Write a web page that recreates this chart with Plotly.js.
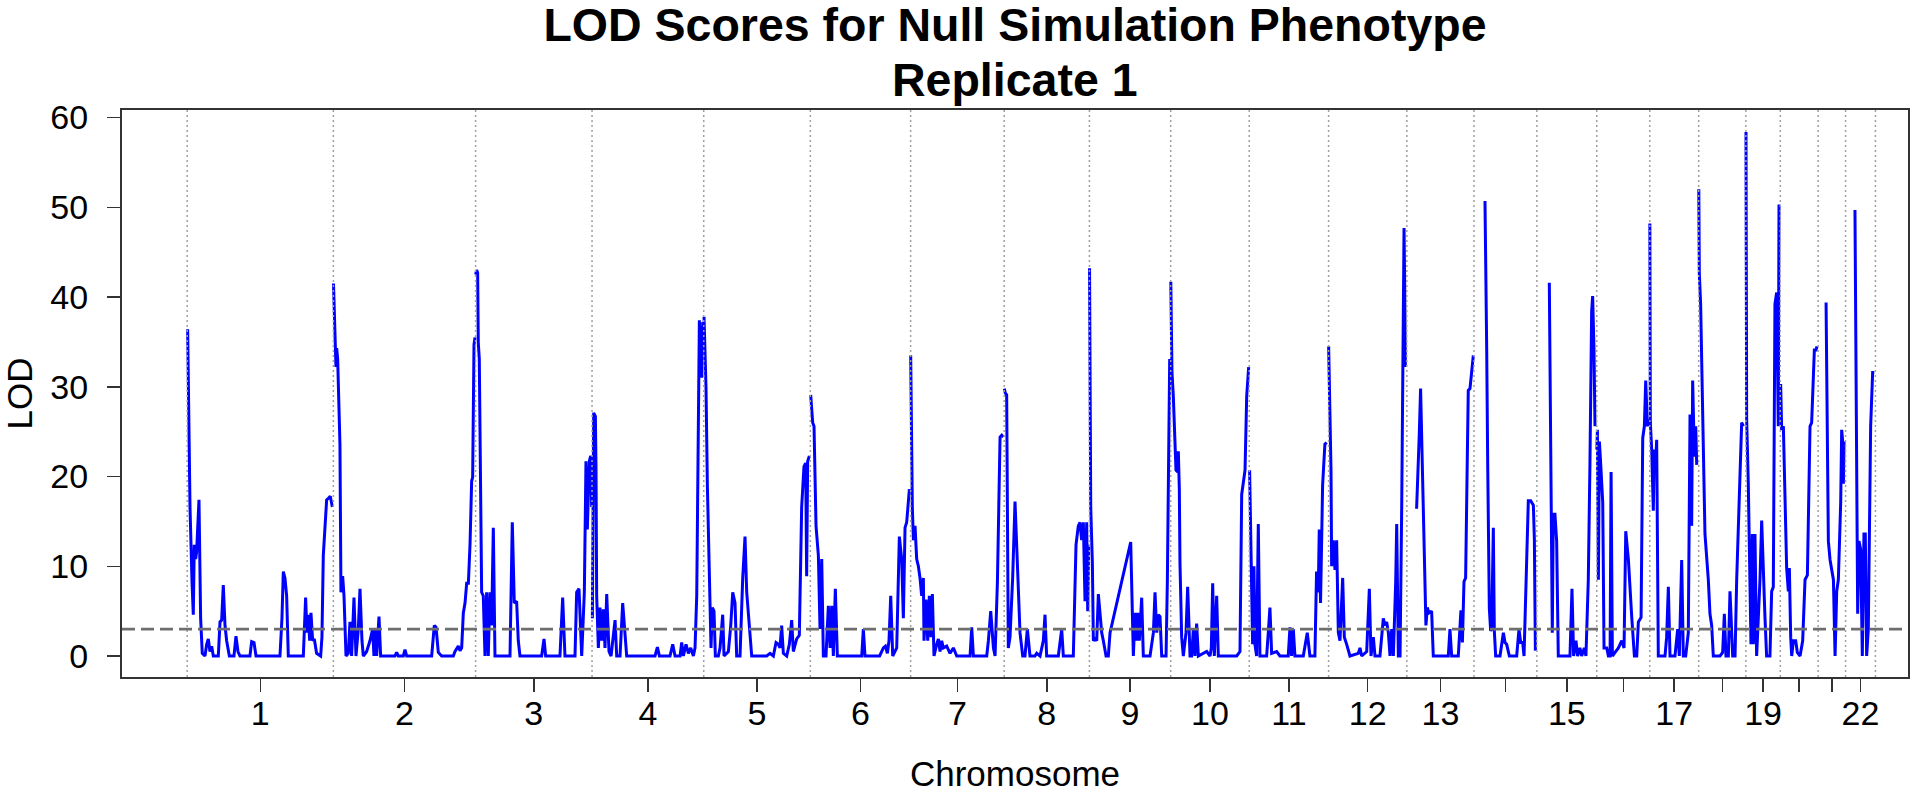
<!DOCTYPE html>
<html>
<head>
<meta charset="utf-8">
<script src="https://cdn.plot.ly/plotly-3.0.1.min.js"></script>
<style>html,body{margin:0;padding:0;background:#fff;}#chart{width:1920px;height:793px;}</style>
</head>
<body>
<div id="chart"></div>
<script>
// Chromosome names and lengths (Mb)
const chromNames = ['1','2','3','4','5','6','7','8','9','10','11','12','13','14','15','16','17','18','19','20','21','22'];
const chromLengths = [248.96, 242.19, 198.30, 190.21, 181.54, 170.81, 159.35, 145.14, 138.39, 133.80, 135.09, 133.28, 114.36, 107.04, 101.99, 90.34, 83.26, 80.37, 58.62, 64.44, 46.71, 50.82];
const tickLabels = ['1','2','3','4','5','6','7','8','9','10','11','12','13','','15','','17','','19','','','22'];
const lodThreshold = 3;

// [position within chromosome (Mb), LOD]
const chr1 = [[0.8,36.4],[3.1,24.8],[4.8,16.6],[8.2,8.3],[10.4,4.6],[12.1,12.4],[14.4,10.8],[16.1,11.6],[20.1,17.4],[22.9,4.2],[25.7,0.3],[30.3,0],[33.2,1.3],[36.0,1.9],[38.8,0.5],[41.7,1.1],[44.5,0],[53.0,0],[55.9,3.8],[58.7,4.0],[61.5,7.9],[64.4,3.4],[67.2,1.7],[71.8,0],[79.7,0],[83.1,2.2],[86.5,0.5],[89.9,0],[106.9,0],[109.8,1.6],[113.8,1.5],[117.2,0],[158.0,0],[161.4,4.2],[163.7,9.4],[166.5,8.7],[169.4,6.7],[172.2,0],[197.8,0],[201.7,6.5],[204.0,2.6],[206.3,4.6],[208.6,1.7],[210.8,4.8],[213.7,1.7],[216.5,1.9],[220.4,0.3],[227.3,0],[229.5,2.1],[231.8,11.2],[235.2,14.5],[237.5,17.4],[240.9,17.6],[243.7,17.8],[247.2,16.6]];
const chr2 = [[0.2,41.5],[1.6,37.2],[2.7,33.9],[4.4,32.2],[5.6,34.3],[7.3,33.1],[11.2,23.6],[12.9,7.1],[15.8,8.9],[18.1,6.7],[21.5,0],[25.4,0.3],[28.3,3.8],[31.1,0],[35.1,6.5],[38.5,0],[42.5,3.0],[45.3,7.5],[48.7,1.7],[51.0,0],[56.7,0.5],[62.3,1.7],[66.9,3.0],[69.1,0],[72.0,3.0],[73.7,0],[77.7,4.4],[80.5,0],[104.9,0],[107.8,0.4],[110.6,0],[119.1,0],[122.0,0.7],[124.8,0],[167.4,0],[171.9,3.4],[174.8,3.2],[178.7,0.4],[184.4,0],[204.3,0],[207.1,0.5],[212.8,1.1],[215.7,0.6],[218.5,0.9],[221.3,4.8],[224.2,5.9],[227.0,8.1],[229.9,8.1],[232.7,12.4],[235.5,19.5],[237.2,19.9],[239.5,34.7],[241.2,35.5]];
const chr3 = [[0.1,42.5],[1.8,43.0],[3.5,42.7],[4.6,34.9],[6.3,33.1],[8.0,23.6],[10.3,7.1],[13.1,6.7],[16.0,0],[18.8,7.1],[21.6,0],[24.5,7.1],[27.3,3.4],[30.2,14.3],[33.0,0],[58.6,0],[62.5,14.9],[65.9,5.9],[69.9,6.1],[72.7,1.7],[75.6,0],[112.5,0],[116.5,1.9],[119.3,0],[143.7,0],[148.3,6.5],[152.2,0],[169.3,0],[172.1,7.1],[176.1,7.5],[180.7,0],[185.2,7.1],[188.0,21.7],[190.3,14.1],[193.7,21.7],[196.0,22.3],[197.7,16.6]];
const chr4 = [[0.6,4.2],[2.8,27.1],[5.7,26.7],[6.8,20.7],[7.9,6.7],[10.8,0.9],[13.6,5.4],[16.5,1.7],[19.3,5.2],[22.1,0.9],[25.0,6.9],[28.9,0.5],[32.4,0],[36.3,2.6],[39.2,4.0],[42.0,0],[47.7,0],[52.2,5.9],[56.2,2.6],[59.0,0],[107.3,0],[111.3,1.0],[114.7,0],[132.8,0],[137.4,1.3],[141.4,0],[149.9,0],[152.7,1.5],[155.5,0],[160.1,1.3],[164.1,0.3],[168.0,0.9],[172.6,0],[175.4,0.9],[178.3,6.7],[180.5,20.7],[182.8,37.4],[185.1,33.1],[186.8,31.0],[188.5,37.2]];
const chr5 = [[0.5,37.8],[2.2,33.1],[3.9,29.8],[6.2,19.0],[8.5,10.4],[10.7,5.9],[12.4,0.9],[14.7,5.4],[17.5,5.0],[19.8,0],[24.9,0],[27.8,0.9],[32.3,4.6],[34.6,0],[42.0,0.5],[46.0,3.4],[49.4,7.1],[53.3,5.9],[56.1,0],[61.8,0],[66.4,8.7],[70.3,13.3],[73.2,7.1],[77.7,3.4],[81.7,0],[107.2,0],[112.9,0.3],[118.6,0],[123.1,1.5],[127.1,1.3],[129.9,0.9],[132.7,3.4],[135.6,0.3],[141.3,0],[145.8,1.3],[149.8,4.0],[152.6,0.5],[158.3,1.9],[162.8,2.3],[166.8,16.6],[170.7,21.1],[173.6,21.5],[175.3,8.9],[177.0,21.7],[179.9,22.3]];
const chr6 = [[0.6,29.1],[2.3,26.9],[4.0,26.0],[6.3,25.6],[9.7,14.5],[13.7,11.2],[16.5,3.0],[19.4,10.8],[22.2,0],[26.7,0],[30.7,5.6],[33.6,0.9],[36.4,5.6],[39.2,0],[42.6,7.5],[46.0,0],[87.5,0],[90.3,3.0],[93.1,0],[118.0,0],[121.5,0.5],[124.4,0.9],[127.8,1.1],[131.2,0.3],[134.0,1.7],[136.9,6.7],[140.3,0],[147.1,0.9],[151.6,13.3],[155.6,10.8],[158.4,4.2],[161.3,14.3],[164.1,14.9],[168.7,18.6]];
const chr7 = [[0.1,33.5],[1.8,18.6],[2.9,16.6],[4.7,12.9],[7.5,14.5],[10.3,10.8],[13.2,10.0],[16.0,8.7],[18.8,6.7],[21.7,8.7],[22.8,1.7],[26.2,6.3],[29.1,1.7],[31.9,6.7],[34.7,2.1],[37.0,6.9],[39.8,0],[44.4,1.3],[47.2,1.9],[50.1,0.5],[52.9,1.7],[55.7,0.9],[61.4,1.1],[67.1,0.3],[72.8,0.9],[78.5,0],[101.2,0],[104.0,3.2],[106.9,0],[129.6,0],[132.4,1.7],[136.4,5.0],[141.0,0.9],[143.8,0],[147.8,8.3],[152.3,24.4],[155.2,24.6],[158.0,24.4]];
const chr8 = [[0.2,29.8],[1.9,29.3],[4.2,29.1],[5.3,16.6],[7.0,0.9],[9.9,2.1],[14.4,8.7],[18.4,17.2],[21.2,12.4],[24.1,7.1],[26.9,2.6],[31.5,0],[35.4,0],[39.4,3.0],[43.9,0],[52.4,0],[55.3,0.3],[61.0,0],[66.6,1.7],[69.5,4.6],[72.3,0],[92.2,0],[97.9,3.0],[100.7,0],[117.7,0],[122.3,12.4],[124.5,14.1],[126.2,14.5],[129.1,14.9],[131.9,12.9],[134.8,14.9],[137.6,6.1],[140.5,14.9],[142.2,5.0],[143.9,12.4]];
const chr9 = [[0.2,43.2],[1.0,33.1],[2.2,16.6],[5.0,10.4],[6.7,1.7],[9.5,1.9],[12.4,1.7],[15.2,6.9],[18.1,4.2],[20.9,2.6],[23.7,1.7],[28.3,0],[32.2,0],[35.1,2.6],[70.3,12.7],[74.8,0],[77.7,4.8],[80.5,1.7],[82.2,4.8],[85.0,1.7],[89.0,6.5],[91.8,0],[103.2,0],[108.9,2.6],[111.7,7.1],[114.6,2.6],[117.4,4.6],[120.2,4.4],[123.1,0],[130.5,0],[132.7,8.3],[134.4,18.6],[136.7,33.1]];
const chr10 = [[0.2,41.7],[1.1,37.2],[2.2,31.6],[4.5,28.9],[6.8,24.8],[9.0,20.7],[11.9,20.5],[13.0,22.8],[14.7,18.6],[15.8,10.4],[18.7,2.1],[21.5,0],[26.1,2.6],[28.9,7.7],[31.2,3.4],[32.9,0],[35.7,0],[38.6,3.0],[41.4,0],[44.2,3.6],[47.1,0],[55.6,0.3],[61.3,0.5],[67.0,0],[69.2,0.9],[71.5,8.1],[74.3,0],[78.3,6.7],[81.1,0],[112.4,0],[118.0,0.5],[120.9,18.0],[123.7,19.5],[126.6,20.7],[129.4,28.9],[131.7,31.8],[132.8,32.2]];
const chr11 = [[0.6,20.7],[2.3,14.5],[4.0,10.4],[5.7,1.3],[8.0,10.0],[9.7,1.3],[12.5,0],[15.4,14.7],[18.2,0],[29.6,0],[32.4,2.6],[35.2,5.4],[38.1,0.3],[46.6,0.5],[52.2,0],[66.4,0],[69.3,3.2],[72.1,0],[75.0,3.0],[77.8,0],[92.0,0],[95.4,1.3],[98.8,2.6],[103.3,0],[111.8,0],[114.6,9.4],[117.5,7.1],[119.2,14.1],[121.4,5.9],[124.9,19.0],[128.8,23.6],[131.7,23.8]];
const chr12 = [[0.1,34.5],[2.4,26.0],[4.1,20.7],[5.2,10.0],[8.1,12.9],[10.9,9.6],[13.7,12.9],[16.6,2.6],[19.4,1.7],[24.0,8.7],[26.8,2.1],[30.8,1.3],[36.4,0],[50.6,0.3],[53.5,0.9],[56.3,0],[64.9,0.5],[69.4,7.5],[72.2,0],[76.2,2.1],[79.0,0],[87.5,0],[93.2,4.2],[96.1,3.4],[98.9,3.8],[101.8,2.6],[104.6,0],[107.5,3.0],[110.3,0],[114.3,8.3],[116.0,14.7],[118.8,0],[121.7,0],[124.5,16.6],[126.2,32.2],[128.5,47.7],[129.6,41.3],[130.8,32.2]];
const chr13 = [[16.6,16.4],[18.3,20.7],[21.2,24.8],[23.4,29.8],[25.1,24.8],[26.9,18.6],[29.7,10.4],[32.5,3.4],[34.8,5.4],[37.7,4.8],[42.2,5.0],[45.0,0],[70.6,0],[73.4,3.0],[76.3,0],[87.6,0],[92.1,5.1],[94.6,1.5],[97.3,8.3],[100.1,8.7],[102.5,20.0],[104.6,29.6],[107.5,29.8],[110.3,31.7],[113.2,33.5]];
const chr14 = [[18.7,50.7],[20.4,42.9],[21.6,34.3],[23.3,21.5],[24.4,11.3],[26.1,5.3],[28.4,2.8],[30.1,3.0],[32.9,14.3],[34.6,2.8],[36.9,0],[44.3,0],[50.0,2.6],[52.8,1.5],[55.6,1.3],[60.2,0],[72.7,0],[76.6,3.0],[79.5,1.5],[82.9,1.5],[85.2,0],[88.6,8.7],[92.5,17.3],[96.5,17.3],[101.1,16.8],[102.8,13.0],[104.5,0.6]];
const chr15 = [[21.2,41.6],[22.3,34.1],[24.0,21.3],[26.3,2.6],[28.0,15.8],[30.8,15.8],[33.7,12.8],[36.5,0],[56.4,0],[59.8,7.5],[62.6,0],[66.6,1.7],[69.4,0],[73.4,0.9],[76.3,0],[80.8,0.9],[83.6,0],[87.6,8.5],[90.4,21.3],[93.3,38.4],[95.0,40.1],[97.3,34.1],[99.0,25.6]];
const chr16 = [[0.2,23.0],[1.1,25.2],[2.8,8.5],[4.5,23.9],[6.8,21.3],[10.2,17.1],[12.4,0.9],[17.0,0.9],[19.8,0],[22.7,0],[24.4,20.5],[26.6,0],[31.2,0.4],[36.9,0.9],[42.6,1.7],[46.5,0.9],[49.4,13.9],[53.9,10.7],[59.6,4.3],[64.1,0],[68.1,0],[70.9,3.8],[75.5,4.3],[78.3,24.3],[81.1,25.6],[83.4,30.7],[86.2,25.6],[87.9,26.4]];
const chr17 = [[0.1,48.2],[0.9,26.0],[3.2,23.0],[6.0,16.2],[7.7,23.0],[10.0,21.3],[11.7,24.1],[14.5,0],[25.9,0],[28.7,2.1],[31.6,7.7],[34.4,0],[42.9,0],[47.5,3.0],[50.3,0],[54.3,10.7],[57.1,0],[61.1,0],[65.6,2.6],[68.5,26.9],[71.3,14.5],[73.0,30.7],[75.9,22.2],[78.2,25.6],[79.9,21.3]];
const chr18 = [[0.2,52.0],[1.1,42.6],[3.3,39.2],[6.8,27.7],[10.7,13.6],[16.4,8.5],[19.2,4.7],[22.1,3.4],[24.9,0],[36.3,0],[40.8,0.4],[43.7,4.7],[46.5,0],[50.5,0],[53.3,7.2],[57.9,0],[61.9,0],[64.7,8.5],[69.3,17.1],[73.2,26.0],[76.1,25.6]];
const chr19 = [[0.2,58.4],[1.3,26.4],[4.1,19.2],[7.0,4.3],[8.7,1.3],[11.0,13.6],[12.7,1.3],[15.5,13.6],[18.3,0],[21.2,4.3],[24.0,8.5],[26.9,15.1],[29.7,8.5],[32.5,4.3],[35.3,0],[41.0,0],[43.9,7.2],[46.7,7.7],[49.5,39.2],[52.4,40.5],[55.2,25.6],[56.4,50.3]];
const chr20 = [[0.6,30.3],[2.3,25.2],[5.2,25.6],[6.9,21.3],[10.8,9.8],[13.7,7.2],[15.4,9.8],[17.7,2.1],[19.4,0],[22.2,1.7],[26.2,1.7],[29.0,0.4],[33.6,0],[38.1,1.7],[42.1,8.5],[46.1,9.0],[50.6,25.6],[53.4,26.0],[58.0,34.1],[60.8,34.1],[62.5,34.5]];
const chr21 = [[13.5,39.4],[15.2,25.6],[17.4,12.8],[20.3,10.7],[26.0,8.5],[28.8,0],[31.6,7.2],[34.4,8.5],[38.4,17.1],[40.1,25.2],[41.8,23.9],[43.0,19.2],[44.1,23.9]];
const chr22 = [[16.0,49.7],[17.7,34.1],[18.8,15.0],[20.6,4.7],[22.8,12.8],[25.7,11.9],[28.5,0],[31.3,13.6],[33.6,13.6],[35.9,0],[38.7,3.0],[42.7,25.6],[46.1,31.6],[48.9,31.6]];

const lodByChrom = [chr1,chr2,chr3,chr4,chr5,chr6,chr7,chr8,chr9,chr10,chr11,chr12,chr13,chr14,chr15,chr16,chr17,chr18,chr19,chr20,chr21,chr22];

// cumulative offsets
const offsets = [];
let total = 0;
chromLengths.forEach(L => { offsets.push(total); total += L; });
const boundaries = offsets.concat([total]);
const mids = offsets.map((o, i) => o + chromLengths[i] / 2);

const xs = [], ys = [];
lodByChrom.forEach((pts, i) => {
  pts.forEach(p => { xs.push(offsets[i] + p[0]); ys.push(p[1]); });
  xs.push(null); ys.push(null);
});

const FONT = 'Liberation Sans, Arial, Helvetica, sans-serif';

const trace = {
  x: xs, y: ys, type: 'scatter', mode: 'lines',
  line: {color: '#0000ff', width: 3},
  connectgaps: false, hoverinfo: 'skip', showlegend: false
};

const shapes = boundaries.map(b => ({
  type: 'line', xref: 'x', yref: 'paper', x0: b, x1: b, y0: 0, y1: 1,
  line: {color: '#a0a0a0', width: 1.5, dash: '2px,3px'}, layer: 'above'
}));
shapes.push({
  type: 'line', xref: 'paper', yref: 'y', x0: 0, x1: 1, y0: lodThreshold, y1: lodThreshold,
  line: {color: '#6e6e6e', width: 2.6, dash: '13px,6px'}, layer: 'above'
});

const layout = {
  width: 1920, height: 793,
  margin: {l: 122, r: 12, t: 110, b: 116},
  paper_bgcolor: '#ffffff', plot_bgcolor: '#ffffff',
  font: {family: FONT, color: '#000000'},
  title: {
    text: '<b>LOD Scores for Null Simulation Phenotype</b>',
    font: {family: FONT, size: 46.5, color: '#000000'},
    xref: 'paper', x: 0.5, xanchor: 'center',
    yref: 'container', y: 1 - 25 / 793, yanchor: 'middle'
  },
  annotations: [{
    text: '<b>Replicate 1</b>', xref: 'paper', yref: 'paper', x: 0.5, y: 1,
    xanchor: 'center', yanchor: 'middle', yshift: 30, showarrow: false,
    font: {family: FONT, size: 46.5, color: '#000000'}
  }],
  xaxis: {
    range: [-111.0, 2930.5], autorange: false,
    tickmode: 'array', tickvals: mids, ticktext: tickLabels,
    ticks: 'outside', ticklen: 13, tickwidth: 1.5, tickcolor: '#333333',
    tickfont: {family: FONT, size: 34, color: '#000000'},
    ticklabelstandoff: -8,
    showline: true, mirror: true, linecolor: '#333333', linewidth: 2,
    showgrid: false, zeroline: false,
    title: {text: 'Chromosome', font: {family: FONT, size: 35, color: '#000000'}, standoff: 32}
  },
  yaxis: {
    range: [-2.34, 60.84], autorange: false,
    tickmode: 'array', tickvals: [0, 10, 20, 30, 40, 50, 60],
    ticks: 'outside', ticklen: 13, tickwidth: 1.5, tickcolor: '#333333',
    tickfont: {family: FONT, size: 34, color: '#000000'},
    ticklabelstandoff: 12,
    showline: true, mirror: true, linecolor: '#333333', linewidth: 2,
    showgrid: false, zeroline: false,
    title: {text: 'LOD', font: {family: FONT, size: 35, color: '#000000'}, standoff: 20}
  },
  shapes: shapes
};

Plotly.newPlot('chart', [trace], layout, {displayModeBar: false, staticPlot: true});
</script>
</body>
</html>
